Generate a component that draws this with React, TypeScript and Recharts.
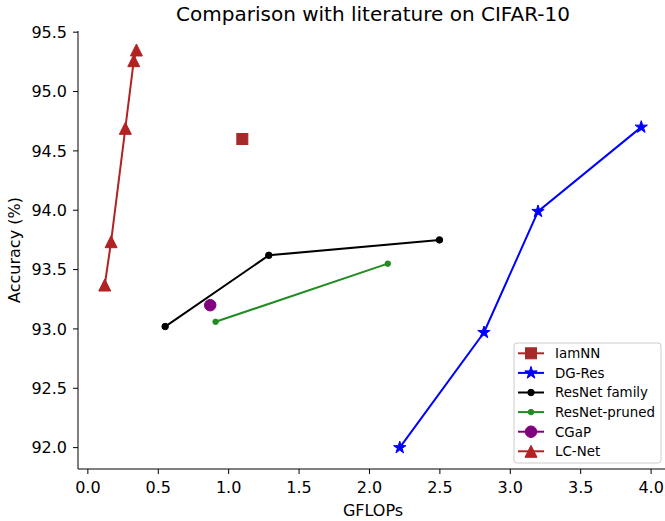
import React from 'react';
import { LineChart, Line, XAxis, YAxis } from 'recharts';

const iamnnX = [1.097];
const iamnnY = [94.6];
const dgResX = [2.215, 2.813, 3.197, 3.93];
const dgResY = [92.0, 92.97, 93.99, 94.7];
const resnetX = [0.549, 1.285, 2.497];
const resnetY = [93.02, 93.62, 93.75];
const prunedX = [0.907, 2.13];
const prunedY = [93.06, 93.55];
const cgapX = [0.869];
const cgapY = [93.2];
const lcnetX = [0.12, 0.165, 0.266, 0.326, 0.345];
const lcnetY = [93.37, 93.735, 94.69, 95.26, 95.35];

const xTicks = [0, 0.5, 1.0, 1.5, 2.0, 2.5, 3.0, 3.5, 4.0];
const yTicks = [92.0, 92.5, 93.0, 93.5, 94.0, 94.5, 95.0, 95.5];

const toPts = (xs: number[], ys: number[]) => xs.map((x, i) => ({ x, y: ys[i] }));

type Shape = 'square' | 'star' | 'dot' | 'circle' | 'triangle';

const series: { name: string; color: string; shape: Shape; size: number; data: { x: number; y: number }[] }[] = [
  { name: 'IamNN', color: '#a52a2a', shape: 'square', size: 11, data: toPts(iamnnX, iamnnY) },
  { name: 'DG-Res', color: '#0000ff', shape: 'star', size: 13, data: toPts(dgResX, dgResY) },
  { name: 'ResNet family', color: '#000000', shape: 'dot', size: 6.5, data: toPts(resnetX, resnetY) },
  { name: 'ResNet-pruned', color: '#228b22', shape: 'dot', size: 5.5, data: toPts(prunedX, prunedY) },
  { name: 'CGaP', color: '#800080', shape: 'circle', size: 11.5, data: toPts(cgapX, cgapY) },
  { name: 'LC-Net', color: '#b22222', shape: 'triangle', size: 12, data: toPts(lcnetX, lcnetY) },
];

const FONT = '"DejaVu Sans", sans-serif';

function starPath(cx: number, cy: number, R: number) {
  const r = R * 0.382;
  const pts: string[] = [];
  for (let i = 0; i < 10; i++) {
    const ang = -Math.PI / 2 + (i * Math.PI) / 5;
    const rad = i % 2 === 0 ? R : r;
    pts.push(`${(cx + rad * Math.cos(ang)).toFixed(2)},${(cy + rad * Math.sin(ang)).toFixed(2)}`);
  }
  return 'M' + pts.join('L') + 'Z';
}

function renderMarker(shape: Shape, cx: number, cy: number, color: string, size: number, key: string) {
  if (cx == null || cy == null) return <g key={key} />;
  const h = size / 2;
  switch (shape) {
    case 'square':
      return <rect key={key} x={cx - h} y={cy - h} width={size} height={size} fill={color} stroke={color} strokeWidth={1} />;
    case 'star':
      return <path key={key} d={starPath(cx, cy, h)} fill={color} stroke={color} strokeWidth={1} />;
    case 'dot':
    case 'circle':
      return <circle key={key} cx={cx} cy={cy} r={h} fill={color} stroke={color} strokeWidth={1} />;
    case 'triangle':
      return (
        <path
          key={key}
          d={`M${cx},${cy - h}L${cx - h},${cy + h}L${cx + h},${cy + h}Z`}
          fill={color}
          stroke={color}
          strokeWidth={1}
        />
      );
  }
  return <g key={key} />;
}

const fmt = (v: number) => v.toFixed(1);

export default function App() {
  const legendLeft = 514;
  const legendTop = 343;
  const rowH = 19.6;
  return (
    <div style={{ position: 'absolute', left: 0, top: 0, width: 665, height: 521, overflow: 'hidden', background: '#fff' }}>
      <LineChart
        width={672}
        height={521}
        margin={{ top: 31, right: 4, bottom: 0, left: 0 }}
        style={{ fontFamily: FONT }}
      >
        <XAxis
          dataKey="x"
          type="number"
          domain={[-0.07, 4.12]}
          allowDataOverflow
          ticks={xTicks}
          tickFormatter={fmt}
          height={52}
          tickSize={5}
          tickMargin={8}
          stroke="#000"
          tick={{ fill: '#000', fontSize: 16, fontFamily: FONT }}
          label={{ value: 'GFLOPs', position: 'insideBottom', offset: 5, fill: '#000', fontSize: 16, fontFamily: FONT }}
        />
        <XAxis
          xAxisId="top"
          dataKey="x"
          type="number"
          orientation="top"
          domain={[-0.07, 4.12]}
          allowDataOverflow
          height={0}
          tick={false}
          tickLine={false}
          stroke="#000"
        />
        <YAxis
          dataKey="y"
          type="number"
          domain={[91.82, 95.51]}
          allowDataOverflow
          ticks={yTicks}
          tickFormatter={fmt}
          width={78}
          tickSize={5}
          tickMargin={6}
          stroke="#000"
          tick={{ fill: '#000', fontSize: 16, fontFamily: FONT }}
          label={{ value: 'Accuracy (%)', angle: -90, position: 'insideLeft', offset: 14, fill: '#000', fontSize: 16, fontFamily: FONT, style: { textAnchor: 'middle' } }}
        />
        {series.map((s) => (
          <Line
            key={s.name}
            data={s.data}
            dataKey="y"
            name={s.name}
            stroke={s.color}
            strokeWidth={2}
            isAnimationActive={false}
            dot={(p: any) => renderMarker(s.shape, p.cx, p.cy, s.color, s.size, `${s.name}-${p.index}`)}
            activeDot={false}
          />
        ))}
      </LineChart>
      <svg
        width={665}
        height={521}
        style={{ position: 'absolute', left: 0, top: 0, pointerEvents: 'none', fontFamily: FONT }}
      >
        <text x={373} y={21} textAnchor="middle" fontSize={20} fill="#000">
          Comparison with literature on CIFAR-10
        </text>
        <rect
          x={legendLeft}
          y={legendTop}
          width={147}
          height={120}
          rx={3}
          fill="#fff"
          fillOpacity={0.8}
          stroke="#cccccc"
          strokeWidth={1}
        />
        {series.map((s, i) => {
          const cy = legendTop + 10.3 + i * rowH;
          return (
            <g key={s.name}>
              <line x1={518} x2={544} y1={cy} y2={cy} stroke={s.color} strokeWidth={2} />
              {renderMarker(s.shape, 531, cy, s.color, s.size, `leg-${s.name}`)}
              <text x={555} y={cy} dy="0.36em" fontSize={13.4} fill="#000">
                {s.name}
              </text>
            </g>
          );
        })}
      </svg>
    </div>
  );
}
